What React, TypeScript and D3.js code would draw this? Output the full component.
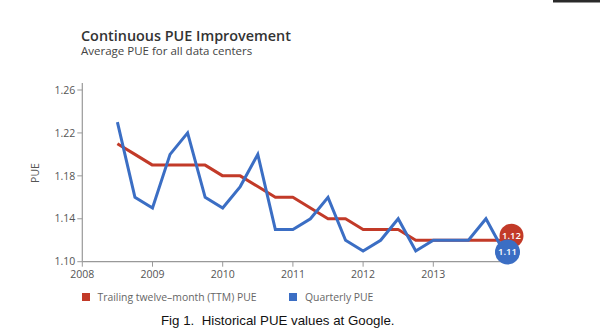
import React from "react";
import * as d3 from "d3";

const quarters = [
  2008.5, 2008.75, 2009, 2009.25, 2009.5, 2009.75, 2010, 2010.25, 2010.5, 2010.75,
  2011, 2011.25, 2011.5, 2011.75, 2012, 2012.25, 2012.5, 2012.75, 2013, 2013.25,
  2013.5, 2013.75, 2014,
];
const quarterlyPUE = [
  1.23, 1.16, 1.15, 1.2, 1.22, 1.16, 1.15, 1.17, 1.2, 1.13,
  1.13, 1.14, 1.16, 1.12, 1.11, 1.12, 1.14, 1.11, 1.12, 1.12,
  1.12, 1.14, 1.11,
];
const ttmPUE = [
  1.21, 1.2, 1.19, 1.19, 1.19, 1.19, 1.18, 1.18, 1.17, 1.16,
  1.16, 1.15, 1.14, 1.14, 1.13, 1.13, 1.13, 1.12, 1.12, 1.12,
  1.12, 1.12, 1.12,
];
const yTicks = [1.1, 1.14, 1.18, 1.22, 1.26];
const xTicks = [2008, 2009, 2010, 2011, 2012, 2013];
const seriesNames = ["Trailing twelve\u2013month (TTM) PUE", "Quarterly PUE"];

const RED = "#c23a28";
const BLUE = "#3b6ec4";
const FONT = "'Open Sans', 'Noto Sans', sans-serif";

export default function App() {
  const x = d3.scaleLinear().domain([2008, 2014]).range([82.3, 503.5]);
  const y = d3.scaleLinear().domain([1.1, 1.26]).range([261.7, 90]);
  const line = d3
    .line<[number, number]>()
    .x((d) => x(d[0]))
    .y((d) => y(d[1]));
  const ttmPts = quarters.map((q, i) => [q, ttmPUE[i]] as [number, number]);
  const qPts = quarters.map((q, i) => [q, quarterlyPUE[i]] as [number, number]);
  const lastI = quarters.length - 1;

  return (
    <svg
      width={600}
      height={336}
      style={{ position: "absolute", left: 0, top: 0, background: "#fff" }}
    >
      <rect x={553} y={0} width={47} height={2.5} fill="#2a2a2a" />
      <text x={81} y={41} fontFamily={FONT} fontSize={14.4} fontWeight={600} fill="#333">
        Continuous PUE Improvement
      </text>
      <text x={81} y={54.5} fontFamily={FONT} fontSize={11.5} fill="#444">
        Average PUE for all data centers
      </text>

      {/* y axis */}
      <line x1={x(2008)} x2={x(2008)} y1={83} y2={y(1.1)} stroke="#999" strokeWidth={1.2} />
      {yTicks.map((t) => (
        <g key={t}>
          <line x1={x(2008) - 5} x2={x(2008)} y1={y(t)} y2={y(t)} stroke="#999" />
          <text
            x={x(2008) - 7}
            y={y(t)}
            dy="0.35em"
            textAnchor="end"
            fontFamily={FONT}
            fontSize={10.5}
            fill="#555"
          >
            {t.toFixed(2)}
          </text>
        </g>
      ))}
      <text
        transform={`translate(35,173) rotate(-90)`}
        textAnchor="middle"
        dy="0.35em"
        fontFamily={FONT}
        fontSize={10.5}
        fill="#555"
      >
        PUE
      </text>

      {/* x axis */}
      <line x1={x(2008)} x2={x(2014)} y1={y(1.1)} y2={y(1.1)} stroke="#999" strokeWidth={1.2} />
      {xTicks.map((t) => (
        <g key={t}>
          <line x1={x(t)} x2={x(t)} y1={y(1.1)} y2={y(1.1) + 5} stroke="#999" />
          <text
            x={x(t)}
            y={278}
            textAnchor="middle"
            fontFamily={FONT}
            fontSize={10.5}
            fill="#555"
          >
            {t}
          </text>
        </g>
      ))}

      <path d={line(ttmPts) || ""} fill="none" stroke={RED} strokeWidth={3} strokeLinejoin="round" />
      <path d={line(qPts) || ""} fill="none" stroke={BLUE} strokeWidth={3} strokeLinejoin="miter" />

      <circle cx={x(quarters[lastI]) + 8} cy={y(ttmPUE[lastI]) - 4.5} r={12} fill={RED} />
      <text
        x={x(quarters[lastI]) + 8}
        y={y(ttmPUE[lastI]) - 4.5}
        dy="0.35em"
        textAnchor="middle"
        fontFamily={FONT}
        fontSize={9.5}
        fontWeight={600}
        fill="#fff"
      >
        {ttmPUE[lastI].toFixed(2)}
      </text>
      <circle cx={x(quarters[lastI]) + 4} cy={y(quarterlyPUE[lastI]) + 1} r={12.5} fill={BLUE} />
      <text
        x={x(quarters[lastI]) + 4}
        y={y(quarterlyPUE[lastI]) + 1}
        dy="0.35em"
        textAnchor="middle"
        fontFamily={FONT}
        fontSize={9.5}
        fontWeight={600}
        fill="#fff"
      >
        {quarterlyPUE[lastI].toFixed(2)}
      </text>

      {/* legend */}
      <rect x={82} y={293} width={8} height={8} fill={RED} />
      <text x={97.5} y={300.5} fontFamily={FONT} fontSize={10.4} fill="#666">
        {seriesNames[0]}
      </text>
      <rect x={289} y={293} width={8} height={8} fill={BLUE} />
      <text x={305} y={300.5} fontFamily={FONT} fontSize={10.4} fill="#666">
        {seriesNames[1]}
      </text>

      <text
        x={161}
        y={325}
        fontFamily="'Liberation Sans', Arial, sans-serif"
        fontSize={13.3}
        fill="#111"
        style={{ whiteSpace: "pre" }}
      >
        {"Fig 1.  Historical PUE values at Google."}
      </text>
    </svg>
  );
}
